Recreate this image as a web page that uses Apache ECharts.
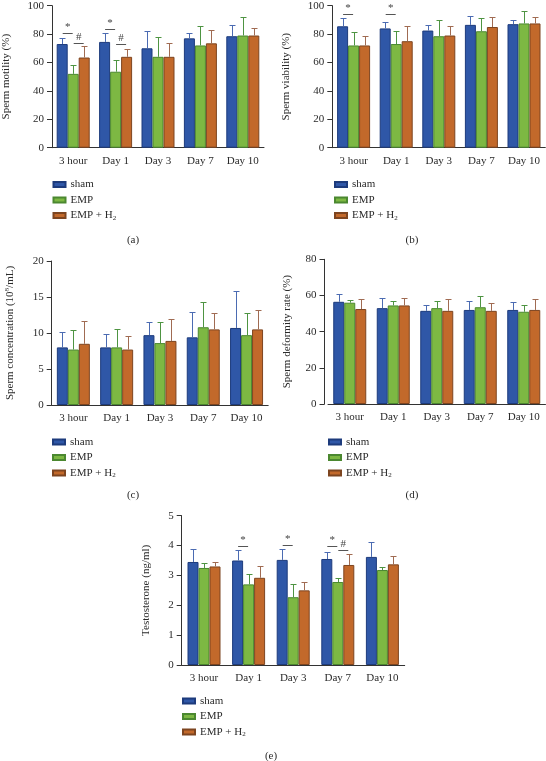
<!DOCTYPE html>
<html><head><meta charset="utf-8">
<script src="https://cdn.jsdelivr.net/npm/echarts@6/dist/echarts.min.js"></script>
<style>html,body{margin:0;padding:0;background:#fff}#c{width:546px;height:761px}</style>
</head><body><div id="c"></div><script>
const categories = ['3 hour', 'Day 1', 'Day 3', 'Day 7', 'Day 10'];
const seriesNames = ['sham', 'EMP', 'EMP + H₂'];

// (a) Sperm motility (%)
const motilitySham = [73, 74.5, 70, 77, 78.5];
const motilityShamSD = [4.5, 6.5, 12, 4, 8];
const motilityEMP = [52, 53.5, 64, 72, 79];
const motilityEMPSD = [6.5, 8, 14, 14, 13];
const motilityH2 = [63.5, 64, 64, 73.5, 79];
const motilityH2SD = [8, 5.5, 9.5, 9.5, 5.5];
const motilitySig = [[0, 0, 1, 80.5, '*'], [0, 1, 2, 74, '#'], [1, 0, 1, 83.3, '*'], [1, 1, 2, 73, '#']];

// (b) Sperm viability (%)
const viabilitySham = [85.5, 84, 82.5, 86.5, 87];
const viabilityShamSD = [5.5, 4.5, 4, 6.5, 3];
const viabilityEMP = [72, 73, 78.5, 82, 87.5];
const viabilityEMPSD = [9.5, 9, 11.5, 9, 8.5];
const viabilityH2 = [72, 75, 79, 85, 87.5];
const viabilityH2SD = [6.5, 10.5, 7, 7, 4.5];
const viabilitySig = [[0, 0, 1, 94.5, '*'], [1, 0, 1, 94.5, '*']];

// (c) Sperm concentration (10^8/mL)
const concSham = [8, 8, 9.7, 9.4, 10.7];
const concShamSD = [2.1, 1.9, 1.8, 3.5, 5.2];
const concEMP = [7.7, 8, 8.6, 10.8, 9.7];
const concEMPSD = [2.7, 2.6, 2.9, 3.5, 3.1];
const concH2 = [8.5, 7.7, 8.9, 10.5, 10.5];
const concH2SD = [3.1, 1.9, 3, 2.3, 2.7];
const concSig = [];

// (d) Sperm deformity rate (%)
const deformSham = [56.5, 53, 51.5, 52, 52];
const deformShamSD = [4.5, 5.5, 3.5, 5, 4.5];
const deformEMP = [56, 54.5, 53, 53.5, 51];
const deformEMPSD = [1.5, 2.5, 4, 6, 4];
const deformH2 = [52.5, 54.5, 51.5, 51.5, 52];
const deformH2SD = [5.5, 4, 6.5, 4.5, 6];
const deformSig = [];

// (e) Testosterone (ng/ml)
const testoSham = [3.45, 3.5, 3.52, 3.55, 3.62];
const testoShamSD = [0.43, 0.35, 0.35, 0.22, 0.51];
const testoEMP = [3.25, 2.7, 2.27, 2.78, 3.18];
const testoEMPSD = [0.17, 0.35, 0.45, 0.15, 0.1];
const testoH2 = [3.3, 2.92, 2.5, 3.35, 3.37];
const testoH2SD = [0.14, 0.4, 0.28, 0.38, 0.29];
const testoSig = [[1, 0, 1, 4.0, '*'], [2, 0, 1, 4.02, '*'], [3, 0, 1, 4.0, '*'], [3, 1, 2, 3.85, '#']];

const FONT = '"Liberation Serif", "Times New Roman", serif';
const TXT = '#2a2a2a';
const AX = '#333';
const COLORS = ['#2f57a7', '#7db843', '#c2692b'];
const BORDERS = ['#1d3b7c', '#4b8830', '#7d4520'];
const ERRC = ['#4b6bb2', '#4e9442', '#a06b52'];
const OFFS = [-11, 0, 11];

const panels = [
  { grid: { left: 52, top: 5.7, width: 212, height: 142 }, max: 100, interval: 20, offset: 0,
    name: 'Sperm motility (%)', nameGap: 40,
    means: [motilitySham, motilityEMP, motilityH2], sds: [motilityShamSD, motilityEMPSD, motilityH2SD],
    sig: motilitySig, legend: { left: 52.5, top: 178.5 } },
  { grid: { left: 332.3, top: 5.7, width: 213, height: 142 }, max: 100, interval: 20, offset: 0,
    name: 'Sperm viability (%)', nameGap: 41,
    means: [viabilitySham, viabilityEMP, viabilityH2], sds: [viabilityShamSD, viabilityEMPSD, viabilityH2SD],
    sig: viabilitySig, legend: { left: 334, top: 178.5 } },
  { grid: { left: 51.7, top: 261, width: 216.5, height: 144 }, max: 20, interval: 5, offset: 0,
    name: '{t|Sperm concentration (10}{s|8}{t|/mL)}', nameGap: 36,
    means: [concSham, concEMP, concH2], sds: [concShamSD, concEMPSD, concH2SD],
    sig: concSig, legend: { left: 52, top: 436 } },
  { grid: { left: 328, top: 259.3, width: 217.5, height: 144.7 }, max: 80, interval: 20, offset: 3.5,
    name: 'Sperm deformity rate (%)', nameGap: 32,
    means: [deformSham, deformEMP, deformH2], sds: [deformShamSD, deformEMPSD, deformH2SD],
    sig: deformSig, legend: { left: 328, top: 436 } },
  { grid: { left: 181.7, top: 515.7, width: 223, height: 149.3 }, max: 5, interval: 1, offset: 0,
    name: 'Testosterone (ng/ml)', nameGap: 30,
    means: [testoSham, testoEMP, testoH2], sds: [testoShamSD, testoEMPSD, testoH2SD],
    sig: testoSig, legend: { left: 182, top: 695 } }
];

const option = {
  backgroundColor: '#fff',
  animation: false,
  grid: [], xAxis: [], yAxis: [], series: [], legend: [],
  graphic: []
};

panels.forEach((p, pi) => {
  option.grid.push(Object.assign({ containLabel: false }, p.grid));
  option.xAxis.push({
    type: 'category', gridIndex: pi, data: categories,
    axisLine: { lineStyle: { color: AX, width: 1 } },
    axisTick: { alignWithLabel: true, length: 3, lineStyle: { color: AX } },
    axisLabel: { fontFamily: FONT, fontSize: 11, color: TXT, margin: 8 },
    splitLine: { show: false }
  });
  option.yAxis.push({
    type: 'value', gridIndex: pi, min: 0, max: p.max, interval: p.interval, offset: p.offset,
    name: p.name, nameLocation: 'middle', nameGap: p.nameGap,
    nameTextStyle: {
      fontFamily: FONT, fontSize: 11, color: TXT,
      rich: {
        t: { fontFamily: FONT, fontSize: 11, color: TXT },
        s: { fontFamily: FONT, fontSize: 7, color: TXT, verticalAlign: 'top', padding: [0, 0, 5, 0] }
      }
    },
    axisLine: { show: true, lineStyle: { color: AX, width: 1 } },
    axisTick: { show: true, length: 5, lineStyle: { color: AX } },
    axisLabel: { fontFamily: FONT, fontSize: 11, color: TXT, margin: 8 },
    splitLine: { show: false }
  });
  for (let s = 0; s < 3; s++) {
    option.series.push({
      type: 'bar', name: seriesNames[s], xAxisIndex: pi, yAxisIndex: pi,
      data: p.means[s], barWidth: 11, barGap: '0%',
      itemStyle: { color: COLORS[s], borderColor: BORDERS[s], borderWidth: 1 },
      emphasis: { disabled: true }
    });
  }
  for (let s = 0; s < 3; s++) {
    const col = ERRC[s];
    const off = OFFS[s];
    option.series.push({
      type: 'custom', name: 'err-' + pi + '-' + s, xAxisIndex: pi, yAxisIndex: pi, silent: true, z: 3,
      encode: { x: 0, y: 1 },
      data: p.means[s].map((m, i) => [i, m, p.sds[s][i]]),
      renderItem: (params, api) => {
        const c = api.coord([api.value(0), api.value(1)]);
        const t = api.coord([api.value(0), api.value(1) + api.value(2)]);
        const x = Math.round(c[0] + off) + 0.5;
        const ty = Math.round(t[1]) + 0.5;
        return {
          type: 'group', children: [
            { type: 'line', shape: { x1: x, y1: c[1], x2: x, y2: ty }, style: { stroke: col, lineWidth: 1 } },
            { type: 'line', shape: { x1: x - 3, y1: ty, x2: x + 3, y2: ty }, style: { stroke: col, lineWidth: 1 } }
          ]
        };
      }
    });
  }
  if (p.sig.length) {
    const sig = p.sig;
    option.series.push({
      type: 'custom', name: 'sig-' + pi, xAxisIndex: pi, yAxisIndex: pi, silent: true, z: 4,
      encode: { x: 0, y: 3 },
      data: sig.map(d => [d[0], d[1], d[2], d[3]]),
      renderItem: (params, api) => {
        const c = api.coord([api.value(0), api.value(3)]);
        const x1 = c[0] + OFFS[api.value(1)] + 0.5;
        const x2 = c[0] + OFFS[api.value(2)] - 0.5;
        const y = Math.round(c[1]) + 0.5;
        return {
          type: 'group', children: [
            { type: 'line', shape: { x1: x1, y1: y, x2: x2, y2: y }, style: { stroke: '#555', lineWidth: 1 } },
            { type: 'text', x: (x1 + x2) / 2, y: y - 1,
              style: { text: sig[params.dataIndex][4], fill: '#444', font: '11px ' + FONT, textAlign: 'center', textVerticalAlign: 'bottom' } }
          ]
        };
      }
    });
  }
  option.legend.push({
    data: seriesNames, orient: 'vertical', left: p.legend.left, top: p.legend.top,
    padding: 0, itemWidth: 12, itemHeight: 5, itemGap: 3.5, selectedMode: false, icon: 'rect',
    formatter: (name) => name === 'EMP + H₂' ? '{n|EMP + H}{s|2}' : '{n|' + name + '}',
    textStyle: {
      fontFamily: FONT, fontSize: 11, color: TXT, lineHeight: 12,
      rich: {
        n: { fontFamily: FONT, fontSize: 11, color: TXT, lineHeight: 12 },
        s: { fontFamily: FONT, fontSize: 7, color: TXT, lineHeight: 12, verticalAlign: 'bottom', padding: [5, 0, 0, 0] }
      }
    }
  });
});

const subLabels = [['(a)', 133, 240], ['(b)', 412, 240], ['(c)', 133, 495], ['(d)', 412, 495], ['(e)', 271, 756.5]];
subLabels.forEach(l => {
  option.graphic.push({
    type: 'text', x: l[1], y: l[2],
    style: { text: l[0], font: '11px ' + FONT, fill: TXT, textAlign: 'center', textVerticalAlign: 'middle' }
  });
});

const chart = echarts.init(document.getElementById('c'), null, { renderer: 'canvas' });
chart.setOption(option);
</script></body></html>
